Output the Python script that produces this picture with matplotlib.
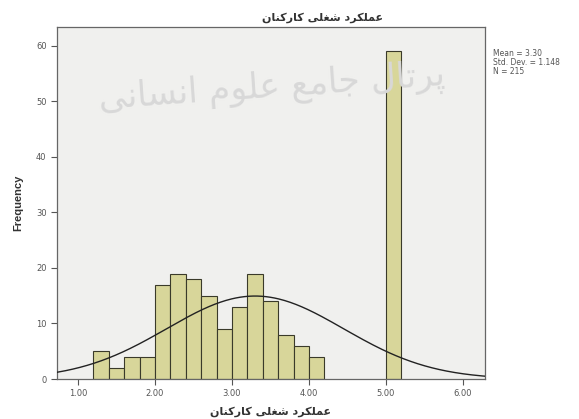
import numpy as np
import matplotlib.pyplot as plt

# histogram data (bins of width 0.2)
bin_left = [1.2, 1.4, 1.6, 1.8, 2.0, 2.2, 2.4, 2.6, 2.8, 3.0, 3.2, 3.4, 3.6, 3.8, 4.0, 5.0]
counts = [5, 2, 4, 4, 17, 19, 18, 15, 9, 13, 19, 14, 8, 6, 4, 59]
bin_width = 0.2

mean = 3.30
std = 1.148
n_total = 215

x_ticks = [1, 2, 3, 4, 5, 6]
x_labels = ["1.00", "2.00", "3.00", "4.00", "5.00", "6.00"]
y_ticks = [0, 10, 20, 30, 40, 50, 60]

title_text = "عملکرد شغلی کارکنان"
watermark = "پرتال جامع علوم انسانی"

# arabic presentation forms: isolated, final, initial, medial
FORMS = {
    'ا': ('\uFE8D', '\uFE8E', None, None),
    'پ': ('\uFB56', '\uFB57', '\uFB58', '\uFB59'),
    'ت': ('\uFE95', '\uFE96', '\uFE97', '\uFE98'),
    'ج': ('\uFE9D', '\uFE9E', '\uFE9F', '\uFEA0'),
    'د': ('\uFEA9', '\uFEAA', None, None),
    'ر': ('\uFEAD', '\uFEAE', None, None),
    'س': ('\uFEB1', '\uFEB2', '\uFEB3', '\uFEB4'),
    'ش': ('\uFEB5', '\uFEB6', '\uFEB7', '\uFEB8'),
    'ع': ('\uFEC9', '\uFECA', '\uFECB', '\uFECC'),
    'غ': ('\uFECD', '\uFECE', '\uFECF', '\uFED0'),
    'ک': ('\uFB8E', '\uFB8F', '\uFB90', '\uFB91'),
    'ل': ('\uFEDD', '\uFEDE', '\uFEDF', '\uFEE0'),
    'م': ('\uFEE1', '\uFEE2', '\uFEE3', '\uFEE4'),
    'ن': ('\uFEE5', '\uFEE6', '\uFEE7', '\uFEE8'),
    'و': ('\uFEED', '\uFEEE', None, None),
    'ی': ('\uFBFC', '\uFBFD', '\uFBFE', '\uFBFF'),
}


def shape(text):
    words = []
    for word in text.split(' '):
        res = []
        for i, c in enumerate(word):
            iso, fin, ini, med = FORMS[c]
            prev_j = i > 0 and FORMS[word[i - 1]][2] is not None
            next_j = i < len(word) - 1 and ini is not None
            if prev_j and next_j:
                res.append(med)
            elif prev_j:
                res.append(fin)
            elif next_j:
                res.append(ini)
            else:
                res.append(iso)
        words.append(''.join(res))
    return ' '.join(words)[::-1]


W, H = 579, 419
fig = plt.figure(figsize=(W / 100, H / 100), dpi=100)
ax = fig.add_axes([57 / W, 1 - 379 / H, (485 - 57) / W, (379 - 27) / H])
ax.set_facecolor('#f0f0ee')

# watermark behind everything
fig.text(272 / W, 1 - 88 / H, shape(watermark), fontsize=25, color='#d8d8d8',
         family='DejaVu Sans', ha='center', va='center', zorder=0, rotation=4)

ax.bar(bin_left, counts, width=bin_width, align='edge', color='#d8d69a',
       edgecolor='#3a3a2a', linewidth=0.8, zorder=2)

xs = np.linspace(0.727, 6.286, 300)
curve = n_total * bin_width / (std * np.sqrt(2 * np.pi)) * np.exp(-0.5 * ((xs - mean) / std) ** 2)
ax.plot(xs, curve, color='#222222', linewidth=1.0, zorder=3)

ax.set_xlim(0.727, 6.286)
ax.set_ylim(0, 63.4)
ax.set_xticks(x_ticks)
ax.set_xticklabels(x_labels)
ax.set_yticks(y_ticks)
ax.tick_params(axis='both', labelsize=6, colors='#555555', length=4, width=0.8)
for s in ax.spines.values():
    s.set_color('#666666')
    s.set_linewidth(0.9)

ax.set_ylabel("Frequency", fontsize=8, fontweight='bold', family='Liberation Sans',
              color='#333333', labelpad=9)
ax.set_xlabel(shape(title_text), fontsize=8, fontweight='bold', family='DejaVu Sans',
              color='#333333', labelpad=6)
fig.text(323 / W, 1 - 18 / H, shape(title_text), fontsize=8, fontweight='bold',
         family='DejaVu Sans', color='#333333', ha='center', va='center')

fig.text(493 / W, 1 - 49 / H, "Mean = 3.30\nStd. Dev. = 1.148\nN = 215", fontsize=5.5,
         color='#555555', ha='left', va='top', linespacing=1.0)

fig.savefig("out.png", dpi=100)
